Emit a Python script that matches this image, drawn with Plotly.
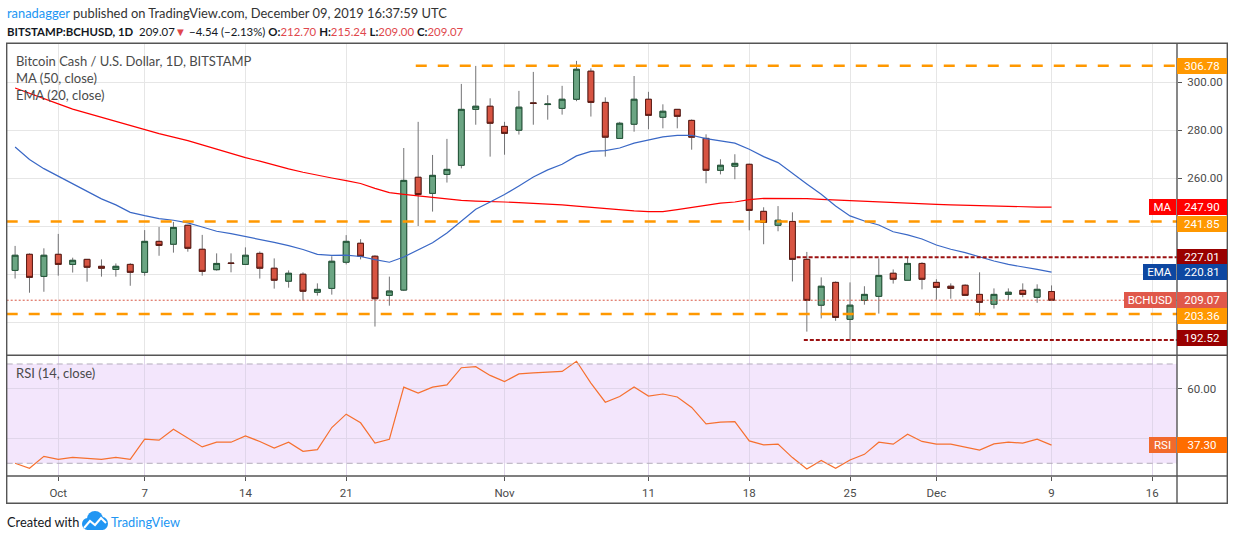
import plotly.graph_objects as go
import pandas as pd

W, H = 1234, 540

# ---------------- data ----------------
START_DATE = "2019-09-28"

OPEN = [221.5, 228.2, 219.0, 228.2, 224.0, 226.1, 223.2, 221.9, 224.0, 220.7,
        233.6, 232.4, 240.3, 230.3, 221.8, 224.6, 224.0, 228.6, 222.4, 217.0,
        219.9, 212.4, 214.0, 224.9, 232.8, 227.4, 211.1, 213.3, 260.3, 253.6,
        261.5, 265.3, 288.6, 289.9, 281.5, 279.9, 291.3, 290.6, 289.0, 292.8,
        304.5, 291.5, 276.5, 282.4, 292.8, 285.3, 288.6, 284.0, 276.5, 263.2,
        264.9, 265.7, 246.1, 240.3, 241.9, 226.1, 207.0, 216.5, 201.1, 209.0,
        210.7, 220.3, 217.4, 224.4, 216.5, 214.9, 215.3, 211.5, 207.4, 211.5,
        213.2, 210.3, 212.70]
HIGH = [231.7, 228.6, 230.7, 236.7, 226.8, 226.2, 226.1, 224.4, 224.5, 238.3,
        239.6, 241.7, 240.5, 236.3, 228.6, 228.6, 231.1, 229.4, 226.5, 221.5,
        220.7, 216.1, 227.4, 236.2, 234.5, 227.8, 218.9, 272.5, 283.4, 269.6,
        276.3, 299.2, 306.7, 293.2, 283.4, 296.3, 304.2, 294.5, 298.4, 308.8,
        305.7, 293.6, 283.4, 302.5, 295.9, 290.7, 288.7, 284.4, 278.2, 267.8,
        269.9, 266.0, 247.8, 248.3, 245.7, 229.2, 218.6, 216.9, 216.5, 214.9,
        226.5, 221.9, 226.9, 224.9, 217.8, 216.1, 215.7, 220.7, 214.0, 214.0,
        216.1, 215.7, 215.24]
LOW = [218.1, 212.2, 212.6, 219.3, 220.6, 216.8, 218.9, 218.9, 215.1, 219.3,
       227.6, 228.9, 229.3, 219.3, 221.4, 220.7, 224.0, 218.1, 213.9, 214.3,
       208.9, 211.0, 211.4, 224.0, 226.1, 198.1, 206.8, 212.9, 240.0, 246.0,
       258.1, 264.0, 282.2, 268.9, 269.7, 278.1, 282.2, 284.3, 286.4, 292.0,
       285.6, 268.9, 276.4, 279.3, 280.3, 280.7, 280.7, 271.8, 257.8, 261.5,
       259.5, 238.2, 232.4, 237.8, 216.9, 196.0, 201.5, 200.5, 192.6, 207.2,
       203.5, 216.0, 217.4, 213.6, 209.3, 209.7, 211.1, 202.6, 205.6, 209.0,
       210.3, 208.0, 209.00]
CLOSE = [227.8, 218.6, 227.8, 224.0, 225.7, 222.8, 222.4, 223.2, 220.7, 233.6,
         231.9, 239.4, 230.7, 221.1, 224.4, 224.4, 227.8, 222.4, 217.4, 220.3,
         212.8, 213.6, 225.3, 233.6, 227.4, 209.7, 212.9, 259.0, 253.1, 261.1,
         263.6, 288.6, 289.9, 282.8, 278.6, 289.5, 291.1, 290.8, 292.8, 305.3,
         291.5, 277.0, 282.8, 292.8, 286.1, 287.8, 285.7, 277.0, 263.2, 265.3,
         266.1, 246.5, 241.5, 242.4, 226.1, 209.0, 214.9, 201.9, 207.0, 211.5,
         219.4, 217.8, 224.4, 217.8, 214.4, 214.0, 211.1, 208.2, 211.5, 212.4,
         211.5, 213.61, 209.07]

MA50 = [297.5, 295.4, 293.1, 290.9, 288.7, 287.0, 285.2, 283.5, 281.8, 280.0,
        278.5, 277.0, 275.6, 273.8, 272.0, 270.2, 268.5, 267.0, 265.3, 263.8,
        262.4, 261.1, 260.0, 258.9, 257.7, 255.7, 253.9, 253.2, 252.5, 251.8,
        251.1, 250.7, 250.4, 250.3, 250.0, 249.7, 249.5, 249.2, 248.8, 248.3,
        247.8, 247.1, 246.5, 246.3, 246.0, 246.0, 246.8, 247.8, 248.6, 249.5,
        250.0, 251.0, 251.5, 251.5, 251.5, 251.4, 251.1, 250.8, 250.7, 250.4,
        250.1, 249.9, 249.6, 249.3, 249.0, 248.8, 248.6, 248.5, 248.3, 248.2,
        248.1, 247.9, 247.90]
EMA20 = [272.9, 267.7, 263.9, 260.7, 257.5, 254.5, 251.3, 248.8, 245.7, 244.3,
         243.1, 242.4, 241.3, 239.6, 237.8, 236.8, 235.7, 234.5, 233.2, 231.8,
         230.2, 228.2, 227.8, 227.9, 227.3, 226.0, 224.9, 227.1, 230.0, 233.0,
         237.1, 242.2, 247.0, 250.0, 253.1, 256.7, 260.4, 263.4, 265.7, 269.2,
         271.1, 271.4, 272.5, 274.5, 275.9, 277.1, 277.8, 277.8, 276.4, 275.4,
         274.5, 272.0, 268.9, 266.4, 261.8, 257.5, 253.2, 248.3, 244.2, 242.1,
         240.4, 237.6, 236.3, 234.6, 232.1, 230.3, 228.9, 227.1, 225.4, 224.0,
         222.8, 221.9, 220.81]
RSI14 = [30.0, 28.0, 32.8, 31.6, 32.4, 32.0, 31.6, 32.4, 31.6, 39.7,
         39.3, 43.7, 40.1, 36.6, 38.5, 38.5, 41.0, 38.8, 36.1, 38.5,
         34.8, 35.5, 44.4, 49.8, 46.3, 38.1, 39.7, 60.7, 58.3, 60.7,
         61.6, 68.5, 68.9, 65.4, 62.9, 66.0, 66.4, 66.6, 67.0, 71.1,
         62.3, 54.6, 56.9, 60.7, 57.1, 57.9, 56.7, 52.5, 45.9, 46.6,
         46.8, 39.0, 37.4, 37.7, 32.3, 27.7, 31.1, 28.0, 31.3, 33.6,
         38.5, 37.7, 41.7, 38.8, 37.7, 37.7, 36.5, 35.3, 37.8, 38.5,
         38.1, 39.7, 37.30]

TICK_DATES = ["2019-10-01", "2019-10-07", "2019-10-14", "2019-10-21", "2019-11-01",
              "2019-11-11", "2019-11-18", "2019-11-25", "2019-12-01", "2019-12-09",
              "2019-12-16"]
TICK_TEXT = ["Oct", "7", "14", "21", "Nov", "11", "18", "25", "Dec", "9", "16"]
PRICE_TICKS = [200, 220, 240, 260, 280, 300]
PRICE_TICK_SHOWN = [260, 280, 300]          # others are hidden behind the label boxes
RSI_TICKS = [40, 60]
RSI_TICK_SHOWN = [60]
RSI_BAND = [30, 70]

ORANGE_LEVELS = [306.78, 241.85, 203.36]
ORANGE_FROM = ["2019-10-25 20:00", None, None]
RED_LEVELS = [227.01, 192.52]
RED_FROM = ["2019-11-21 07:00", "2019-11-21 19:00"]

# ---------------- layout geometry (pixels) ----------------
def px(x):
    return x / W


def py(y):
    return 1 - y / H


PANE_L, PANE_R, OUT_R = 6.7, 1177.0, 1227.3
TOP, SEP, RSI_BOT, BOT = 43.3, 355.3, 476.0, 503.3
X_RANGE = ["2019-09-27 10:00", "2019-12-17 17:10"]
PRICE_RANGE = [186.125, 316.125]
RSI_RANGE = [24.88, 73.5]

FONT = "Lato"
AXFONT = "Roboto"

dates = pd.date_range(START_DATE, periods=len(CLOSE), freq="D")
body_hi = [max(o, c) for o, c in zip(OPEN, CLOSE)]
body_lo = [min(o, c) for o, c in zip(OPEN, CLOSE)]

GREEN_FILL, GREEN_LINE = "#6ba583", "#225437"
RED_FILL, RED_LINE = "#d75442", "#5b1a13"
WICK = "#737375"

fig = go.Figure()

fig.add_trace(go.Candlestick(
    x=dates, open=OPEN, high=HIGH, low=LOW, close=CLOSE,
    increasing=dict(line=dict(color=WICK, width=1), fillcolor=WICK),
    decreasing=dict(line=dict(color=WICK, width=1), fillcolor=WICK),
    whiskerwidth=0, showlegend=False, hoverinfo="skip", xaxis="x", yaxis="y"))
fig.add_trace(go.Candlestick(
    x=dates, open=OPEN, high=body_hi, low=body_lo, close=CLOSE,
    increasing=dict(line=dict(color=GREEN_LINE, width=1), fillcolor=GREEN_FILL),
    decreasing=dict(line=dict(color=RED_LINE, width=1), fillcolor=RED_FILL),
    whiskerwidth=0, showlegend=False, xaxis="x", yaxis="y"))
fig.add_trace(go.Scatter(x=dates, y=MA50, mode="lines",
                         line=dict(color="#ff0000", width=1.2),
                         showlegend=False, xaxis="x", yaxis="y"))
fig.add_trace(go.Scatter(x=dates, y=EMA20, mode="lines",
                         line=dict(color="#3a68c6", width=1.2),
                         showlegend=False, xaxis="x", yaxis="y"))
fig.add_trace(go.Scatter(x=dates, y=RSI14, mode="lines",
                         line=dict(color="#f6702f", width=1.2),
                         showlegend=False, xaxis="x2", yaxis="y2"))

shapes = []
# RSI band and its dashed bounds
shapes.append(dict(type="rect", xref="x2 domain", yref="y2", x0=0, x1=1,
                   y0=RSI_BAND[0], y1=RSI_BAND[1], fillcolor="#f3e6fc",
                   line=dict(width=0), layer="below"))
for lv in RSI_BAND:
    shapes.append(dict(type="line", xref="x2 domain", yref="y2", x0=0, x1=1,
                       y0=lv, y1=lv, line=dict(color="#b3adbb", width=1, dash="6px,4px")))
# horizontal levels
for lv, start in zip(ORANGE_LEVELS, ORANGE_FROM):
    if start is None:
        shapes.append(dict(type="line", xref="x domain", yref="y", x0=0, x1=1, y0=lv, y1=lv,
                           line=dict(color="#ff9800", width=2.5, dash="11px,11px")))
    else:
        shapes.append(dict(type="line", xref="x", yref="y", x0=start, x1=X_RANGE[1], y0=lv, y1=lv,
                           line=dict(color="#ff9800", width=2.5, dash="11px,11px")))
for lv, start in zip(RED_LEVELS, RED_FROM):
    shapes.append(dict(type="line", xref="x", yref="y", x0=start, x1=X_RANGE[1], y0=lv, y1=lv,
                       line=dict(color="#9b1111", width=2, dash="4px,2px")))
shapes.append(dict(type="line", xref="x domain", yref="y", x0=0, x1=1,
                   y0=CLOSE[-1], y1=CLOSE[-1],
                   line=dict(color="#d75442", width=1, dash="2px,2px")))
# frame
FRAME = "#555555"
shapes.append(dict(type="rect", xref="paper", yref="paper", x0=px(PANE_L), x1=px(OUT_R),
                   y0=py(BOT), y1=py(TOP), line=dict(color=FRAME, width=1.4)))
shapes.append(dict(type="line", xref="paper", yref="paper", x0=px(PANE_R), x1=px(PANE_R),
                   y0=py(BOT), y1=py(TOP), line=dict(color=FRAME, width=1.4)))
for yy in (SEP, RSI_BOT):
    shapes.append(dict(type="line", xref="paper", yref="paper", x0=px(PANE_L), x1=px(OUT_R),
                       y0=py(yy), y1=py(yy), line=dict(color=FRAME, width=1.4)))

# TradingView cloud logo (decorative)
LOGO = "#2196f3"
for (x0, y0, x1, y1) in [(82, 518, 93, 530), (87, 511, 103, 527), (97, 517, 108, 530)]:
    shapes.append(dict(type="circle", xref="paper", yref="paper", x0=px(x0), x1=px(x1),
                       y0=py(y1), y1=py(y0), fillcolor=LOGO, line=dict(width=0)))
shapes.append(dict(type="rect", xref="paper", yref="paper", x0=px(87), x1=px(103),
                   y0=py(530), y1=py(522), fillcolor=LOGO, line=dict(width=0)))
zig = [(84, 528), (90, 521), (95, 525), (101, 518), (106, 523)]
path = "M " + " L ".join(f"{px(a):.5f},{py(b):.5f}" for a, b in zig)
shapes.append(dict(type="path", xref="paper", yref="paper", path=path,
                   line=dict(color="white", width=2)))

ann = []


def text_ann(txt, x, y, size, color="#4a4a4a", family=FONT):
    ann.append(dict(text=txt, xref="paper", yref="paper", x=px(x), y=py(y),
                    xanchor="left", yanchor="middle", showarrow=False,
                    font=dict(family=family, size=size, color=color)))


def right_box(txt, yval, color, yref="y", yshift=0):
    ann.append(dict(text=txt, xref="paper", yref=yref, x=px(PANE_R), y=yval,
                    xanchor="left", yanchor="middle", showarrow=False, width=50, height=16,
                    bgcolor=color, borderpad=0, borderwidth=0, yshift=yshift,
                    font=dict(family=AXFONT, size=11.5, color="white")))


def left_box(txt, yval, color, width, yref="y"):
    ann.append(dict(text=txt, xref="paper", yref=yref, x=px(PANE_R - 1), y=yval,
                    xanchor="right", yanchor="middle", showarrow=False, width=width, height=16,
                    bgcolor=color, borderpad=0, borderwidth=0,
                    font=dict(family=AXFONT, size=11.5, color="white")))


RED_TXT = "#e0474c"
chg = CLOSE[-1] - CLOSE[-2]
pct = chg / CLOSE[-2] * 100


def fmt(v):
    return f"{v:.2f}".replace("-", "\u2212")


text_ann("<span style='color:#2196f3'>ranadagger</span> published on TradingView.com, "
         "December 09, 2019 16:37:59 UTC", 5, 12.7, 12.9, color="#333333")
text_ann(f"<b>BITSTAMP:BCHUSD, 1D</b>  {CLOSE[-1]:.2f}<span style='color:{RED_TXT}'>\u25bc</span> "
         f"{fmt(chg)} ({fmt(pct)}%) "
         f"<b>O:</b><span style='color:{RED_TXT}'>{OPEN[-1]:.2f}</span> "
         f"<b>H:</b><span style='color:{RED_TXT}'>{HIGH[-1]:.2f}</span> "
         f"<b>L:</b><span style='color:{RED_TXT}'>{LOW[-1]:.2f}</span> "
         f"<b>C:</b><span style='color:{RED_TXT}'>{CLOSE[-1]:.2f}</span>",
         5, 31.5, 11.4, color="#131722")
text_ann("Bitcoin Cash / U.S. Dollar, 1D, BITSTAMP", 14, 61, 13)
text_ann("MA (50, close)", 14, 78, 13)
text_ann("EMA (20, close)", 14, 95, 13)
text_ann("RSI (14, close)", 14, 373, 13)
text_ann("Created with", 5, 522, 12.8, color="#131722")
text_ann("TradingView", 109, 522, 12.8, color="#2196f3")

right_box(f"{ORANGE_LEVELS[0]:.2f}", ORANGE_LEVELS[0], "#ff9800")
left_box("MA", MA50[-1], "#ff0000", 27)
right_box(f"{MA50[-1]:.2f}", MA50[-1], "#ff0000")
right_box(f"{ORANGE_LEVELS[1]:.2f}", ORANGE_LEVELS[1], "#ff9800", yshift=-2)
right_box(f"{RED_LEVELS[0]:.2f}", RED_LEVELS[0], "#990000")
left_box("EMA", EMA20[-1], "#0d47a1", 33)
right_box(f"{EMA20[-1]:.2f}", EMA20[-1], "#0d47a1")
left_box("BCHUSD", CLOSE[-1], "#e0584a", 52)
right_box(f"{CLOSE[-1]:.2f}", CLOSE[-1], "#e0584a")
right_box(f"{ORANGE_LEVELS[2]:.2f}", ORANGE_LEVELS[2], "#ff9800", yshift=-2)
right_box(f"{RED_LEVELS[1]:.2f}", RED_LEVELS[1], "#990000", yshift=2)
left_box("RSI", RSI14[-1], "#f26a2c", 27, yref="y2")
right_box(f"{RSI14[-1]:.2f}", RSI14[-1], "#ff6d00", yref="y2")

GRID = "#e6e6e6"
GRID2 = "#e0d6ea"
AXCOL = "#4a4a4a"

fig.update_layout(
    width=W, height=H,
    margin=dict(l=0, r=0, t=0, b=0, pad=0),
    paper_bgcolor="white", plot_bgcolor="white",
    showlegend=False, boxgap=0.42, boxmode="overlay",
    font=dict(family=FONT, color=AXCOL),
    shapes=shapes, annotations=ann,
    xaxis=dict(domain=[px(PANE_L), px(PANE_R)], anchor="y", type="date", range=X_RANGE,
               tickvals=TICK_DATES, ticktext=TICK_TEXT, showticklabels=False,
               showgrid=True, gridcolor=GRID, gridwidth=1, zeroline=False, showline=False,
               rangeslider=dict(visible=False), fixedrange=True),
    yaxis=dict(domain=[py(SEP), py(TOP)], anchor="x", side="right", range=PRICE_RANGE,
               tickvals=PRICE_TICKS,
               ticktext=[f"{v:.2f}" if v in PRICE_TICK_SHOWN else "" for v in PRICE_TICKS],
               ticks="outside", ticklen=4, tickcolor=FRAME, ticklabelstandoff=3,
               tickfont=dict(family=AXFONT, size=11.5, color=AXCOL),
               showgrid=True, gridcolor=GRID, zeroline=False, showline=False, fixedrange=True),
    xaxis2=dict(domain=[px(PANE_L), px(PANE_R)], anchor="y2", type="date", range=X_RANGE,
                tickvals=TICK_DATES, ticktext=TICK_TEXT, ticks="outside", ticklen=4,
                tickcolor=FRAME, ticklabelstandoff=2,
                tickfont=dict(family=AXFONT, size=11.5, color=AXCOL),
                showgrid=True, gridcolor=GRID2, zeroline=False, showline=False,
                rangeslider=dict(visible=False), fixedrange=True),
    yaxis2=dict(domain=[py(RSI_BOT), py(SEP)], anchor="x2", side="right", range=RSI_RANGE,
                tickvals=RSI_TICKS,
                ticktext=[f"{v:.2f}" if v in RSI_TICK_SHOWN else "" for v in RSI_TICKS],
                ticks="outside", ticklen=4, tickcolor=FRAME, ticklabelstandoff=3,
                tickfont=dict(family=AXFONT, size=11.5, color=AXCOL),
                showgrid=True, gridcolor=GRID2, zeroline=False, showline=False, fixedrange=True),
)

fig.write_html("out.html", config={"displayModeBar": False},
               post_script="document.body.style.margin='0px';document.body.style.overflow='hidden';")
